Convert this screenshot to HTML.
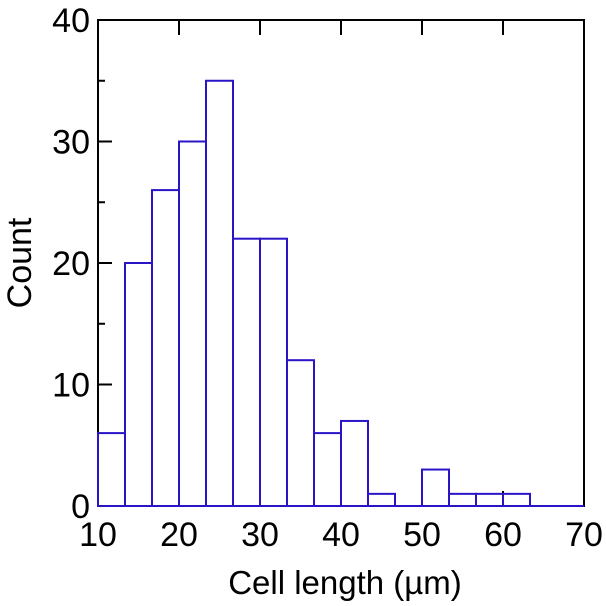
<!DOCTYPE html>
<html><head><meta charset="utf-8"><style>
html,body{margin:0;padding:0;background:#fff;}
svg{display:block;font-family:"Liberation Sans",Arial,sans-serif;}
</style></head><body>
<svg id="chart" width="606" height="606">
<g id="bars"></g>
<g id="axes"></g>
<text x="345" y="594" font-size="33" text-anchor="middle">Cell length (µm)</text>
<text transform="translate(31,263) rotate(-90)" font-size="34" text-anchor="middle">Count</text>
</svg>
<script>
const binStart = 10;
const binWidth = 10/3;
const counts = [6,20,26,30,35,22,22,12,6,7,1,0,3,1,1,1];
const xTicks = [10,20,30,40,50,60,70];
const yTicks = [0,10,20,30,40];
const yMinor = [5,15,25,35];

const L=98,R=584,T=20,B=506;
const xs = v => L + (v-10)/60*(R-L);
const ys = v => B - v/40*(B-T);
const NS='http://www.w3.org/2000/svg';
function mk(tag, attrs, parent){const e=document.createElementNS(NS,tag);for(const k in attrs)e.setAttribute(k,attrs[k]);parent.appendChild(e);return e;}
const bars=document.getElementById('bars'), axes=document.getElementById('axes');

const frame=mk('rect',{x:L,y:T,width:R-L,height:B-T,fill:'none',stroke:'#000','stroke-width':2},axes);



yTicks.forEach(v=>{
  const y=ys(v);
  const t=mk('line',{x1:L,x2:L+14,y1:y,y2:y,stroke:'#000','stroke-width':2},axes);
  
  
  const lb=mk('text',{x:90,y:y+12,'font-size':34,'text-anchor':'end'},axes);
  lb.textContent=v;
  
  
});
yMinor.forEach(v=>{
  const y=ys(v);
  const t=mk('line',{x1:L,x2:L+7,y1:y,y2:y,stroke:'#000','stroke-width':2},axes);
  
  
});
xTicks.forEach(v=>{
  const x=xs(v);
  const t=mk('line',{x1:x,x2:x,y1:T,y2:T+15,stroke:'#000','stroke-width':2},axes);
  
  
  const t2=mk('line',{x1:x,x2:x,y1:B,y2:B-15,stroke:'#000','stroke-width':2},axes);
  
  
  const lb=mk('text',{x:x,y:546,'font-size':34,'text-anchor':'middle'},axes);
  lb.textContent=v;
  
  
});

counts.forEach((c,i)=>{
  const x0=xs(binStart+i*binWidth), x1=xs(binStart+(i+1)*binWidth);
  if(c<=0) return;
  const r=mk('rect',{x:x0,y:ys(c),width:x1-x0,height:B-ys(c),fill:'#fff',stroke:'#2a14c8','stroke-width':2},bars);
  
  
});
const base=mk('line',{x1:L,x2:R,y1:B,y2:B,stroke:'#2a14c8','stroke-width':2},bars);


document.getElementById('chart').appendChild(bars);
</script>
</body></html>
